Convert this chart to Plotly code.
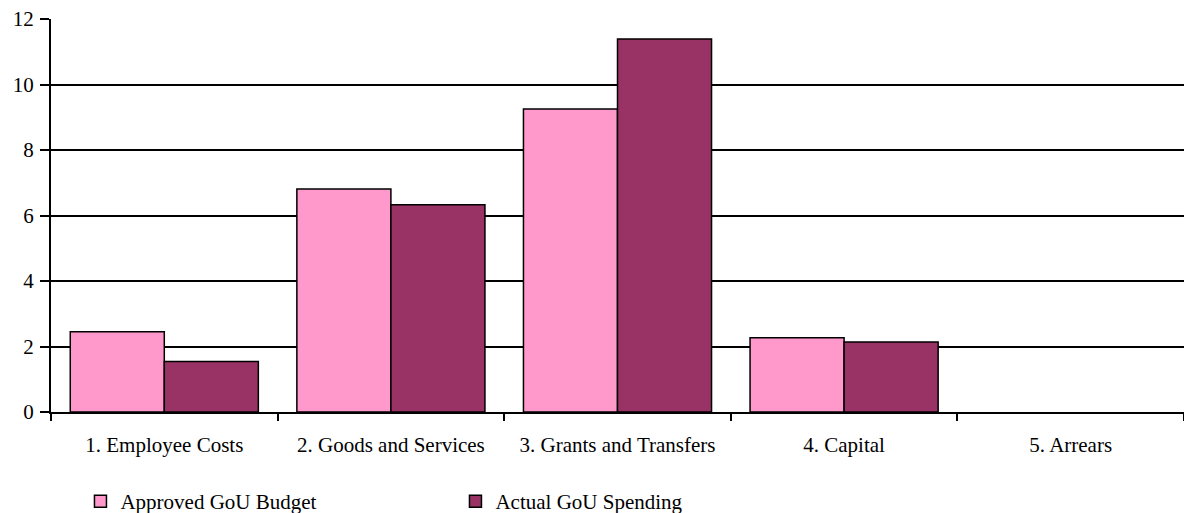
import plotly.graph_objects as go

categories = ["1. Employee Costs", "2. Goods and Services", "3. Grants and Transfers",
              "4. Capital", "5. Arrears"]
approved_budget = [2.45, 6.81, 9.25, 2.27, 0]
actual_spending = [1.54, 6.33, 11.39, 2.14, 0]

FONT = dict(family="Liberation Serif, Times New Roman, serif", size=21, color="black")

# empty (zero) bars get no outline
outline_widths = [1.5 if v > 0 else 0 for v in approved_budget]
outline_widths_actual = [1.5 if v > 0 else 0 for v in actual_spending]

fig = go.Figure()
fig.add_trace(go.Bar(
    name="Approved GoU Budget", x=categories, y=approved_budget,
    marker=dict(color="#FF99CC", line=dict(color="black", width=outline_widths)),
))
fig.add_trace(go.Bar(
    name="Actual GoU Spending", x=categories, y=actual_spending,
    marker=dict(color="#993366", line=dict(color="black", width=outline_widths_actual)),
))

fig.update_layout(
    width=1184, height=513,
    margin=dict(l=51, r=0, t=19, b=101, autoexpand=False),
    paper_bgcolor="white", plot_bgcolor="white",
    font=FONT,
    barmode="group", bargap=0.17, bargroupgap=0,
    showlegend=True,
    legend=dict(orientation="h", x=0.026, xanchor="left", y=-0.228, yanchor="middle",
                font=FONT, entrywidth=330, entrywidthmode="pixels",
                tracegroupgap=0, itemwidth=30,
                bgcolor="rgba(0,0,0,0)", traceorder="normal"),
)
fig.update_xaxes(
    showline=True, linecolor="black", linewidth=2,
    ticks="outside", tickson="boundaries", ticklen=7, tickwidth=2, tickcolor="black",
    showgrid=False, ticklabelstandoff=13, automargin=False,
)
fig.update_yaxes(
    range=[0, 12], dtick=2, tick0=0,
    showline=True, linecolor="black", linewidth=2,
    ticks="outside", ticklen=9, tickwidth=2, tickcolor="black",
    showgrid=True, gridcolor="black", gridwidth=1.5, zeroline=False,
    ticklabelstandoff=2, automargin=False,
)

fig.write_html("out.html")
